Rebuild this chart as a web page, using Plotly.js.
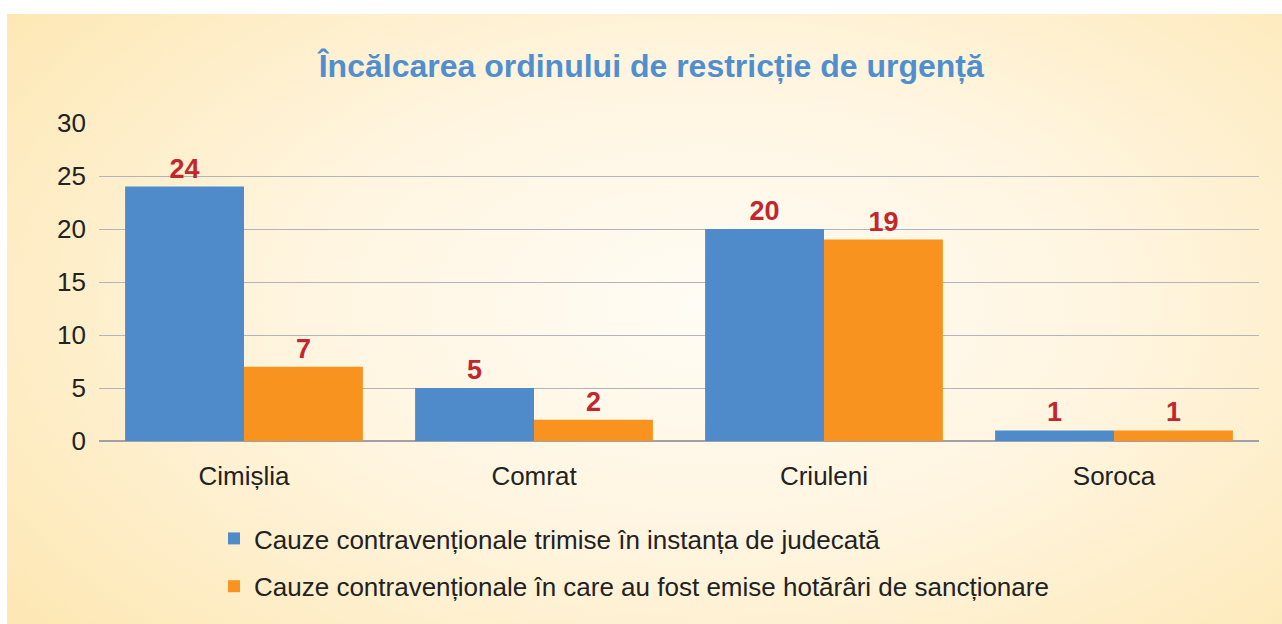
<!DOCTYPE html>
<html>
<head>
<meta charset="utf-8">
<script src="https://cdn.plot.ly/plotly-3.0.1.min.js"></script>
<style>
html,body{margin:0;padding:0;background:#fff;width:1282px;height:624px;overflow:hidden;}
#bg{position:absolute;left:7px;top:14px;width:1275px;height:610px;
background:radial-gradient(ellipse 70% 85% at 55% 48%, #fffcf5 0%, #fff5e0 45%, #fde7b2 100%);}
#chart{position:absolute;left:0;top:0;width:1282px;height:624px;}
</style>
</head>
<body>
<div id="bg"></div>
<div id="chart"></div>
<script>
const categories = ["Cimișlia", "Comrat", "Criuleni", "Soroca"];
const seriesNames = [
  "Cauze contravenționale trimise în instanța de judecată",
  "Cauze contravenționale în care au fost emise hotărâri de sancționare"
];
const sentToCourt = [24, 5, 20, 1];
const sanctionDecisions = [7, 2, 19, 1];
const yTicks = [0, 5, 10, 15, 20, 25, 30];
const colors = ["#4f8bcb", "#f7931e"];

const font = "Liberation Sans, Arial, sans-serif";
const labelFont = {family: font, size: 27, color: "#c1272d", weight: "bold"};

function makeTrace(vals, name, color, group) {
  return {
    type: "bar", x: categories, y: vals, name: name, legendgroup: group,
    marker: {color: color, line: {width: 0}},
    text: vals.map(String), textposition: "outside", cliponaxis: false,
    textfont: labelFont, hoverinfo: "x+y+name"
  };
}

const data = [
  makeTrace(sentToCourt, seriesNames[0], colors[0], "a"),
  makeTrace(sanctionDecisions, seriesNames[1], colors[1], "b")
];

const layout = {
  width: 1282, height: 624,
  paper_bgcolor: "rgba(0,0,0,0)", plot_bgcolor: "rgba(0,0,0,0)",
  margin: {l: 99, r: 23, t: 123, b: 183, autoexpand: false},
  barmode: "group", bargap: 0.18, bargroupgap: 0,
  title: {text: "<b>Încălcarea ordinului de restricție de urgență</b>",
    font: {family: font, size: 32, color: "#4f8fcf"},
    x: 0.508, xanchor: "center", y: 1 - 66/624, yanchor: "middle"},
  xaxis: {showgrid: false, showline: false, ticks: "", zeroline: false,
    tickfont: {family: font, size: 26, color: "#222"}, ticklabelstandoff: 17},
  yaxis: {range: [0, 30], tickvals: yTicks, ticktext: yTicks.map(String),
    showgrid: true, gridcolor: "#b3b3bb", gridwidth: 1,
    zeroline: true, zerolinecolor: "#a0a0a8", zerolinewidth: 2,
    showline: false, ticks: "", ticklabelstandoff: 12,
    tickfont: {family: font, size: 26, color: "#222"}},
  showlegend: true,
  legend: {orientation: "v", traceorder: "grouped", tracegroupgap: 11,
    xref: "container", yref: "container", x: 214/1282, y: 1 - 515/624,
    xanchor: "left", yanchor: "top", bgcolor: "rgba(0,0,0,0)",
    font: {family: font, size: 26, color: "#222"}}
};

Plotly.newPlot("chart", data, layout, {displayModeBar: false, staticPlot: true});
</script>
</body>
</html>
